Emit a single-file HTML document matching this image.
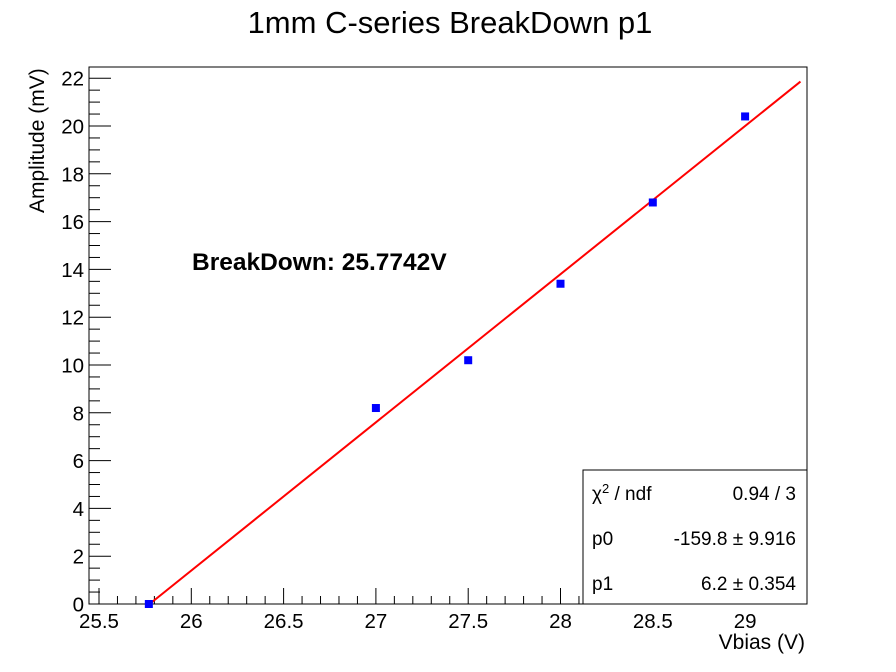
<!DOCTYPE html>
<html><head><meta charset="utf-8">
<style>
html,body{margin:0;padding:0;background:#fff;}
svg{display:block;font-family:"Liberation Sans",sans-serif;}
</style></head>
<body>
<svg id="c" width="896" height="672" viewBox="0 0 896 672" xmlns="http://www.w3.org/2000/svg">
<rect x="0" y="0" width="896" height="672" fill="#fff"/>
<text x="450" y="33" font-size="31" text-anchor="middle">1mm C-series BreakDown p1</text>
<text x="805" y="649" font-size="21" text-anchor="end">Vbias (V)</text>
<text transform="translate(44,213) rotate(-90)" font-size="21" text-anchor="start">Amplitude (mV)</text>
<text x="192" y="270" font-size="24.5" font-weight="bold">BreakDown: 25.7742V</text>
</svg>
<script>
const xValues = [25.77, 27.0, 27.5, 28.0, 28.5, 29.0];
const yValues = [0.0, 8.2, 10.2, 13.4, 16.8, 20.4];
const fitP0 = -159.8;
const fitP1 = 6.2;
const fitRange = [25.7742, 29.3];
const xTickLabels = ["25.5","26","26.5","27","27.5","28","28.5","29"];
const yTickLabels = ["0","2","4","6","8","10","12","14","16","18","20","22"];

const NS = "http://www.w3.org/2000/svg";
const L = 89, R = 807, T = 67, B = 604;
function sx(v){ return 99 + (v - 25.5) * 184.6; }
function sy(v){ return 604 - v * 23.9; }
const svg = document.getElementById('c');
function mk(tag, attrs, parent){
  const e = document.createElementNS(NS, tag);
  for (const k in attrs) e.setAttribute(k, attrs[k]);
  (parent || svg).appendChild(e);
  return e;
}
const fr = mk('rect', {x:L, y:T, width:R-L, height:B-T, fill:'none', stroke:'#000', 'stroke-width':1});



const xmin = 25.5 - (99 - L) / 184.6, xmax = 25.5 + (R - 99) / 184.6;
for (let i = 0; 25.4 + i * 0.1 <= xmax + 1e-9; i++) {
  const v = 25.4 + i * 0.1;
  if (v < xmin - 1e-9) continue;
  const major = Math.abs(v * 2 - Math.round(v * 2)) < 1e-6;
  const x = sx(v);
  const t = mk('line', {x1:x, x2:x, y1:B, y2:B - (major ? 16 : 8), stroke:'#000', 'stroke-width':1});
  
  
}
xTickLabels.forEach(s => {
  const t = mk('text', {x:sx(parseFloat(s)), y:628, 'font-size':20.5, 'text-anchor':'middle'});
  t.textContent = s;
  
  
});
for (let i = 0; i * 0.5 <= 22.45; i++) {
  const v = i * 0.5;
  const major = i % 4 === 0;
  const y = sy(v);
  const t = mk('line', {x1:L, x2:L + (major ? 22 : 11), y1:y, y2:y, stroke:'#000', 'stroke-width':1});
  
  
}
yTickLabels.forEach(s => {
  const t = mk('text', {x:84, y:sy(parseFloat(s)) + 7.5, 'font-size':20.5, 'text-anchor':'end'});
  t.textContent = s;
  
  
});
const fy = x => fitP1 * x + fitP0;
const fl = mk('line', {x1:sx(fitRange[0]), y1:sy(fy(fitRange[0])), x2:sx(fitRange[1]), y2:sy(fy(fitRange[1])), stroke:'#ff0000', 'stroke-width':2});


xValues.forEach((xv, i) => {
  const p = mk('rect', {x:sx(xv) - 4, y:sy(yValues[i]) - 4, width:8, height:8, fill:'#0000ff'});
  
  
});
const sb = mk('g', {});


mk('rect', {x:583, y:470, width:224, height:134, fill:'#fff', stroke:'#000', 'stroke-width':1}, sb);
const rows = [["χ<tspan baseline-shift='super' font-size='13'>2</tspan> / ndf","0.94 / 3",500],["p0","-159.8 ± 9.916",545],["p1","6.2 ± 0.354",590]];
rows.forEach(r => {
  const a = mk('text', {x:592, y:r[2], 'font-size':19}, sb);
  a.innerHTML = r[0];
  
  
  const b = mk('text', {x:796, y:r[2], 'font-size':19, 'text-anchor':'end'}, sb);
  b.textContent = r[1];
  
  
});
</script>
</body></html>
